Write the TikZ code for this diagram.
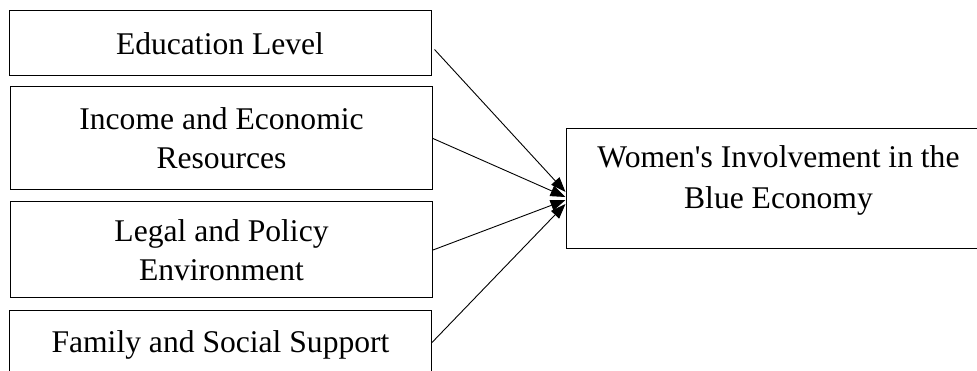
\documentclass[tikz,border=0pt]{standalone}
\usepackage{fontspec}
\setmainfont{Liberation Serif}
\usetikzlibrary{arrows.meta}

\begin{document}
\begin{tikzpicture}[x=1pt,y=1pt,>={Triangle[length=15pt,width=11pt]},
  factor/.style={draw,line width=1pt,inner sep=0pt,align=center,
    minimum width=422pt,font=\fontsize{31.6}{39}\selectfont},
  outcome/.style={factor,minimum width=425pt,minimum height=120pt,
    font=\fontsize{31.6}{41}\selectfont,text depth=23pt}]
% frame of the picture
\clip (0,0) rectangle (977,-371);

% factors on the left
\node[factor,minimum height=65pt] (edu) at (220,-43.5) {Education Level};
\node[factor,minimum height=103pt] (income) at (221.5,-138.5) {Income and Economic\\Resources};
\node[factor,minimum height=96pt] (legal) at (221.5,-250) {Legal and Policy\\Environment};
\node[factor,minimum height=67pt] (family) at (220.5,-344.5) {Family and Social Support};

% outcome on the right
\node[outcome] (women) at (778.5,-189) {Women\textquotesingle s Involvement in the\\Blue Economy};

% arrows
\draw[->,line width=0.9pt] ([xshift=3pt,yshift=-6pt]edu.east) -- ([yshift=-3pt]women.west);
\draw[->,line width=0.9pt] (income.east) -- ([yshift=-8pt]women.west);
\draw[->,line width=0.9pt] (legal.east) -- ([yshift=-11pt]women.west);
\draw[->,line width=0.9pt] ([yshift=2pt]family.east) -- ([yshift=-15pt]women.west);

\end{tikzpicture}
\end{document}
